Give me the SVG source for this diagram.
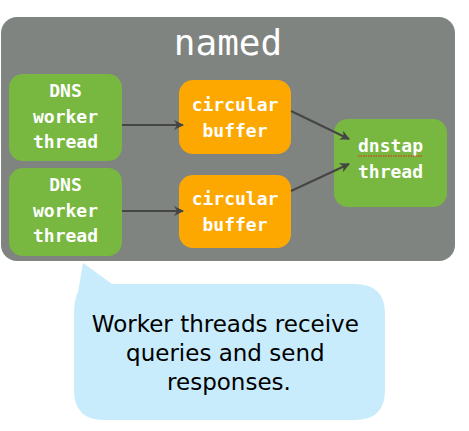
<svg xmlns="http://www.w3.org/2000/svg" width="469" height="431" viewBox="0 0 469 431">
<defs>
<marker id="ah" viewBox="0 0 10 10" refX="9" refY="5" markerWidth="10" markerHeight="10" markerUnits="userSpaceOnUse" orient="auto">
<path d="M0,0 L10,5 L0,10 L3,5 z" fill="#454545"/>
</marker>
<style>
.g{fill:#78b840}
.o{fill:#fca800}
.t{font-family:"DejaVu Sans Mono",monospace;font-weight:bold;font-size:18px;fill:#ffffff;text-anchor:middle}
.c{stroke:#454545;stroke-width:2;fill:none;marker-end:url(#ah)}
</style>
</defs>
<rect width="469" height="431" fill="#ffffff"/>
<g id="named">
<rect x="1" y="17" width="454" height="244" rx="16" fill="#808481"/>
<text x="228" y="55" font-family="DejaVu Sans Mono,monospace" font-size="36" fill="#ffffff" text-anchor="middle">named</text>
</g>
<g id="worker1">
<rect class="g" x="9" y="74" width="113" height="87" rx="14"/>
<text class="t" x="65.5" y="97">DNS</text>
<text class="t" x="65.5" y="123">worker</text>
<text class="t" x="65.5" y="148">thread</text>
</g>
<g id="worker2">
<rect class="g" x="9" y="168" width="113" height="88" rx="14"/>
<text class="t" x="65.5" y="191">DNS</text>
<text class="t" x="65.5" y="217">worker</text>
<text class="t" x="65.5" y="242">thread</text>
</g>
<g id="buffer1">
<rect class="o" x="179" y="80" width="112" height="74" rx="14"/>
<text class="t" x="235" y="111">circular</text>
<text class="t" x="235" y="137">buffer</text>
</g>
<g id="buffer2">
<rect class="o" x="179" y="175" width="112" height="73" rx="14"/>
<text class="t" x="235" y="205">circular</text>
<text class="t" x="235" y="231">buffer</text>
</g>
<g id="dnstap">
<rect class="g" x="334" y="119" width="113" height="88" rx="14"/>
<text class="t" x="390.5" y="152">dnstap</text>
<line x1="358" y1="156" x2="423" y2="156" stroke="#e8231c" stroke-width="1.2" stroke-dasharray="1.5,1"/>
<text class="t" x="390.5" y="178">thread</text>
</g>
<g id="connectors">
<line class="c" x1="122" y1="125" x2="183" y2="125"/>
<line class="c" x1="122" y1="211" x2="183" y2="211"/>
<line class="c" x1="291" y1="111" x2="349" y2="139"/>
<line class="c" x1="291" y1="191" x2="349" y2="164"/>
</g>
<g id="callout">
<path d="M83,263 L112,284 L355,284 Q385,284 385,314 L385,390 Q385,420 355,420 L104,420 Q74,420 74,390 L74,314 Q74,300 78,292 Z" fill="#c8ecfb"/>
<text font-family="DejaVu Sans,sans-serif" font-size="23" fill="#000000" text-anchor="middle">
<tspan x="229" y="332">Worker threads receive</tspan>
<tspan x="229" y="361">queries and send</tspan>
<tspan x="229" y="390">responses.</tspan>
</text>
</g>
</svg>
